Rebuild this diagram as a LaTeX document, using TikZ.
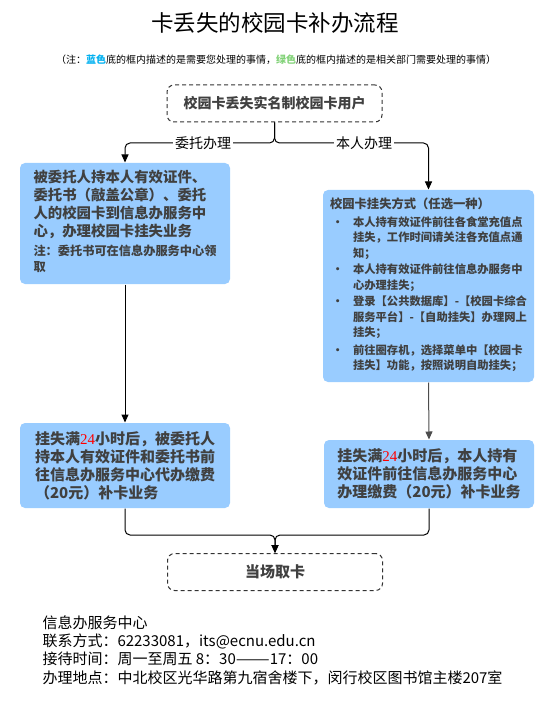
\documentclass[tikz,border=0pt]{standalone}
\usepackage{fontspec}
\setmainfont{Noto Sans CJK SC}
\newfontfamily\numfont{Liberation Serif}
\usetikzlibrary{arrows.meta}
\definecolor{boxblue}{RGB}{153,204,255}
\definecolor{boxtext}{RGB}{64,64,64}
\definecolor{notecyan}{RGB}{0,176,240}
\definecolor{notegreen}{RGB}{130,210,120}
\newcommand{\hrs}{\textcolor{red}{\normalfont\numfont 24}}

\begin{document}
\begin{tikzpicture}[x=1pt, y=-1pt, >={Triangle[width=7pt,length=8pt]}, line width=1pt,
    bluebox/.style={fill=boxblue, rounded corners=5pt, text=boxtext, align=left,
        font=\bfseries\fontsize{15}{18}\selectfont},
    dashbox/.style={draw=black!80, dash pattern=on 4pt off 3pt, rounded corners=7pt,
        minimum width=215, minimum height=37, text=boxtext,
        font=\bfseries\fontsize{14}{17}\selectfont},
    branch/.style={fill=white, inner xsep=2pt, inner ysep=1pt,
        font=\fontsize{14}{16}\selectfont}]
    \useasboundingbox (0,0) rectangle (558,703);

    % Title and note
    \node[font=\fontsize{22.5}{27}\selectfont] (title) at (275,23) {卡丢失的校园卡补办流程};
    \node[font=\fontsize{10}{12}\selectfont] (note) at (276,60) {（注：\textcolor{notecyan}{\bfseries 蓝色}底的框内描述的是需要您处理的事情，\textcolor{notegreen}{\bfseries 绿色}底的框内描述的是相关部门需要处理的事情）};

    % Start
    \node[dashbox] (start) at (274.5,103.5) {校园卡丢失实名制校园卡用户};

    % Left branch
    \node[bluebox, minimum width=210, minimum height=121,
        font=\bfseries\fontsize{14.4}{17.7}\selectfont] (entrust) at (125,223.5) {%
        \begin{tabular}{@{}l@{}}
        被委托人持本人有效证件、\\
        委托书（敲盖公章）、委托\\
        人的校园卡到信息办服务中\\
        心，办理校园卡挂失业务\\[1pt]
        \fontsize{12.2}{16}\selectfont 注：委托书可在信息办服务中心领\\[-1.5pt]
        \fontsize{12.2}{16}\selectfont 取
        \end{tabular}};
    \node[bluebox, minimum width=210, minimum height=85] (entrustpay) at (125,465.5) {%
        挂失满\hrs 小时后，被委托人\\持本人有效证件和委托书前\\往信息办服务中心代办缴费\\（20元）补卡业务};

    % Right branch
    \node[bluebox, minimum width=211, minimum height=192,
        font=\bfseries\fontsize{11.3}{15.5}\selectfont] (lost) at (428.5,286) {%
        \begin{tabular}{@{}p{23pt}@{}l@{}}
        \multicolumn{2}{@{}l@{}}{\fontsize{12.3}{15.5}\selectfont 校园卡挂失方式（任选一种）}\\[2.5pt]
        \hspace{2pt}\textbullet & 本人持有效证件前往各食堂充值点\\
         & 挂失，工作时间请关注各充值点通\\
         & 知；\\[1pt]
        \hspace{2pt}\textbullet & 本人持有效证件前往信息办服务中\\
         & 心办理挂失；\\[1pt]
        \hspace{2pt}\textbullet & 登录【公共数据库】-【校园卡综合\\
         & 服务平台】-【自助挂失】办理网上\\
         & 挂失；\\[2pt]
        \hspace{2pt}\textbullet & 前往圈存机，选择菜单中【校园卡\\
         & 挂失】功能，按照说明自助挂失；
        \end{tabular}};
    \node[bluebox, minimum width=210, minimum height=68] (selfpay) at (429,474) {%
        挂失满\hrs 小时后，本人持有\\效证件前往信息办服务中心\\办理缴费（20元）补卡业务};

    % End
    \node[dashbox, font=\bfseries\fontsize{15}{18}\selectfont] (pickup) at (275,572) {当场取卡};

    % Fork
    \coordinate (fork) at (274.5,143);
    \draw[->, rounded corners=5pt] (start.south) -- (fork) -| (entrust.north);
    \draw[->, rounded corners=5pt] (start.south) -- (fork) -| (lost.north);
    \node[branch] (byagent) at (203,143) {委托办理};
    \node[branch] (byself) at (364,143) {本人办理};

    % Down the branches
    \draw[->] (entrust.south) -- (entrustpay.north);
    \draw[->, draw=black!70] (lost.south) -- (selfpay.north);

    % Merge
    \coordinate (merge) at (275,535);
    \draw[->, rounded corners=5pt] (entrustpay.south) |- (merge) -- (pickup.north);
    \draw[->, rounded corners=5pt] (selfpay.south) |- (merge) -- (pickup.north);

    % Footer
    \node[anchor=north west, align=left, inner sep=0pt,
        font=\fontsize{15}{18.3}\selectfont] (contact) at (42,615) {%
        信息办服务中心\\联系方式：62233081，its@ecnu.edu.cn\\接待时间：周一至周五 8：30\scalebox{1.35}[1]{——}17：00\\办理地点：中北校区光华路第九宿舍楼下，闵行校区图书馆主楼207室};
\end{tikzpicture}
\end{document}
